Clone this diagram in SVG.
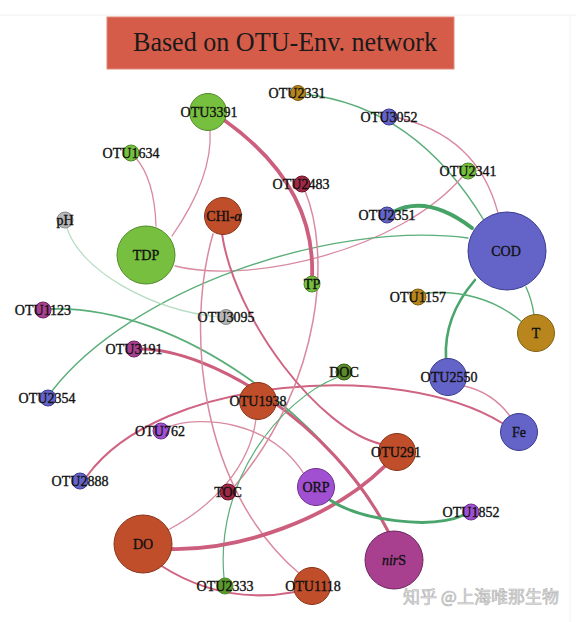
<svg xmlns="http://www.w3.org/2000/svg" width="576" height="622" viewBox="0 0 576 622">
<style>
.e{fill:none;stroke-linecap:round}
.p1{stroke:#d98aa0;stroke-width:1.3}
.p2{stroke:#cf6583;stroke-width:2}
.p3{stroke:#cd5f7e;stroke-width:3.8}
.g0{stroke:#b5dcc0;stroke-width:1.2}
.g1{stroke:#5aae78;stroke-width:1.4}
.g2{stroke:#4aa56c;stroke-width:2.6}
.g3{stroke:#45a368;stroke-width:4}
.lb{font-family:"Liberation Serif","Times New Roman",serif;font-size:14px;fill:#111111;stroke:#111111;stroke-width:0.35;text-anchor:middle}
.green{fill:#77bf3f;stroke:#4f8a2a}
.brown{fill:#c04e2a;stroke:#8a3418}
.blue{fill:#6464c8;stroke:#3a3a90}
.gold{fill:#b8861c;stroke:#806010}
.mag{fill:#a8408f;stroke:#6e2560}
.purp{fill:#a050d0;stroke:#703090}
.dred{fill:#a02845;stroke:#6a1428}
.grey{fill:#b8b8b8;stroke:#8a8a8a}
.olive{fill:#5a8a2a;stroke:#3a6018}
circle{stroke-width:1}
</style>
<rect width="576" height="622" fill="#ffffff"/>
<line x1="0" y1="15" x2="576" y2="15" stroke="#f0f0f0" stroke-width="1"/>
<line x1="570" y1="15" x2="570" y2="622" stroke="#f3f3f3" stroke-width="1"/>
<g id="title">
<rect x="107" y="17" width="347" height="52" fill="#d65c4a" stroke="#e08a7a" stroke-width="1"/>
<text x="285" y="51" font-family="Liberation Serif,'Times New Roman',serif" font-size="27" fill="#1a1a1a" text-anchor="middle" textLength="304" lengthAdjust="spacingAndGlyphs">Based on OTU-Env. network</text>
</g>
<g id="edges">
<path class="e g1" d="M304,94 Q415.5,106 485,222"/>
<path class="e p1" d="M395,117 Q477.5,135 498,213"/>
<path class="e p1" d="M175,266 C250,285 400,250 463,176"/>
<path class="e g3" d="M393,212 Q427.5,194 472,228"/>
<path class="e g1" d="M468,238 C330,220 130,290 52,391"/>
<path class="e g2" d="M475,280 Q443.5,316.5 446,359"/>
<path class="e g1" d="M526,287 Q532,300 534,315"/>
<path class="e g1" d="M425,293 Q482.5,288.5 522,322"/>
<path class="e p1" d="M464,386 Q492,392 510,416" style="stroke-width:1.6"/>
<path class="e p2" d="M87,476 C160,375 400,360 502,423"/>
<path class="e g1" d="M51,309 C180,305 330,420 388,532" style="stroke-width:1.8"/>
<path class="e p3" d="M142,349 C210,350 330,420 388,531" style="stroke-width:3"/>
<path class="e p1" d="M135,157 Q154.5,178.5 156,226"/>
<path class="e p1" d="M210,130 Q213,177 172,236"/>
<path class="e p3" d="M224,120 Q316,185.5 312,277"/>
<path class="e p1" d="M305,191 C330,250 325,380 234,487" style="stroke-width:1.5"/>
<path class="e p1" d="M213,234 C185,330 200,490 300,574" style="stroke-width:1.5"/>
<path class="e p2" d="M222,234 C235,320 320,430 381,444"/>
<path class="e p1" d="M256,419 C250,465 215,505 168,530"/>
<path class="e g1" d="M338,377 C280,400 215,480 224,578" style="stroke-width:1.2"/>
<path class="e p3" d="M172,549 C240,550 330,520 385,466"/>
<path class="e p2" d="M160,565 Q222.5,605.5 295,592"/>
<path class="e p1" d="M168,427 C200,415 270,420 304,474"/>
<path class="e g2" d="M330,500 C360,520 430,530 464,515" style="stroke-width:3"/>
<path class="e g0" d="M67,228 C80,270 150,310 219,317"/>
</g>
<g id="n-OTU3391"><circle class="green" cx="208" cy="112" r="18.5"/><text class="lb" x="209" y="117">OTU3391</text></g>
<g id="n-OTU2331"><circle class="gold" cx="298" cy="93" r="7.5"/><text class="lb" x="297" y="98">OTU2331</text></g>
<g id="n-OTU3052"><circle class="blue" cx="389" cy="117" r="8"/><text class="lb" x="389" y="122">OTU3052</text></g>
<g id="n-OTU1634"><circle class="green" cx="131" cy="153" r="8"/><text class="lb" x="131" y="158">OTU1634</text></g>
<g id="n-OTU2483"><circle class="dred" cx="302" cy="184" r="8"/><text class="lb" x="301" y="189">OTU2483</text></g>
<g id="n-OTU2341"><circle class="green" cx="468" cy="171" r="8"/><text class="lb" x="468" y="176">OTU2341</text></g>
<g id="n-pH"><circle class="grey" cx="65" cy="220" r="8"/><text class="lb" x="65" y="225">pH</text></g>
<g id="n-CHl"><circle class="brown" cx="223" cy="216" r="18.5"/><text class="lb" x="224" y="221">CHl-<tspan font-style="italic">α</tspan></text></g>
<g id="n-OTU2351"><circle class="blue" cx="387" cy="215" r="8"/><text class="lb" x="387" y="220">OTU2351</text></g>
<g id="n-TDP"><circle class="green" cx="146" cy="255" r="29"/><text class="lb" x="146" y="260">TDP</text></g>
<g id="n-COD"><circle class="blue" cx="507" cy="251" r="39"/><text class="lb" x="506" y="256">COD</text></g>
<g id="n-TP"><circle class="green" cx="312" cy="284" r="8"/><text class="lb" x="312" y="289">TP</text></g>
<g id="n-OTU1157"><circle class="gold" cx="418" cy="297" r="8"/><text class="lb" x="418" y="302">OTU1157</text></g>
<g id="n-OTU1123"><circle class="mag" cx="43" cy="310" r="8"/><text class="lb" x="43" y="315">OTU1123</text></g>
<g id="n-OTU3095"><circle class="grey" cx="226" cy="317" r="7.5"/><text class="lb" x="226" y="322">OTU3095</text></g>
<g id="n-T"><circle class="gold" cx="536" cy="333" r="18.5"/><text class="lb" x="536" y="338">T</text></g>
<g id="n-OTU3191"><circle class="mag" cx="134" cy="349" r="8"/><text class="lb" x="134" y="354">OTU3191</text></g>
<g id="n-DOC"><circle class="olive" cx="344" cy="372" r="8"/><text class="lb" x="344" y="377">DOC</text></g>
<g id="n-OTU2550"><circle class="blue" cx="448" cy="377" r="18.5"/><text class="lb" x="449" y="382">OTU2550</text></g>
<g id="n-OTU2354"><circle class="blue" cx="48" cy="398" r="8"/><text class="lb" x="47" y="403">OTU2354</text></g>
<g id="n-OTU1938"><circle class="brown" cx="258" cy="401" r="18.5"/><text class="lb" x="258" y="406">OTU1938</text></g>
<g id="n-Fe"><circle class="blue" cx="519" cy="432" r="18.5"/><text class="lb" x="519" y="437">Fe</text></g>
<g id="n-OTU762"><circle class="purp" cx="161" cy="431" r="8"/><text class="lb" x="160" y="436">OTU762</text></g>
<g id="n-OTU291"><circle class="brown" cx="397" cy="452" r="18.5"/><text class="lb" x="396" y="457">OTU291</text></g>
<g id="n-OTU2888"><circle class="blue" cx="80" cy="481" r="8"/><text class="lb" x="80" y="486">OTU2888</text></g>
<g id="n-ORP"><circle class="purp" cx="316" cy="487" r="18.5"/><text class="lb" x="316" y="492">ORP</text></g>
<g id="n-TOC"><circle class="dred" cx="228" cy="492" r="8"/><text class="lb" x="228" y="497">TOC</text></g>
<g id="n-OTU1852"><circle class="purp" cx="471" cy="512" r="8"/><text class="lb" x="471" y="517">OTU1852</text></g>
<g id="n-DO"><circle class="brown" cx="143" cy="544" r="29"/><text class="lb" x="143" y="549">DO</text></g>
<g id="n-nirS"><circle class="mag" cx="394" cy="560" r="29"/><text class="lb" x="394" y="565"><tspan font-style="italic">nir</tspan>S</text></g>
<g id="n-OTU2333"><circle class="green" cx="225" cy="586" r="8" style="fill:#5a9a2a"/><text class="lb" x="225" y="591">OTU2333</text></g>
<g id="n-OTU1118"><circle class="brown" cx="312" cy="586" r="18.5"/><text class="lb" x="313" y="591">OTU1118</text></g>
<text x="403" y="603" font-family="'Noto Sans CJK SC','Noto Sans',sans-serif" font-size="17" fill="#e4e4e4" stroke="#b0b0b0" stroke-width="0.6">知乎 @上海唯那生物</text>
</svg>
